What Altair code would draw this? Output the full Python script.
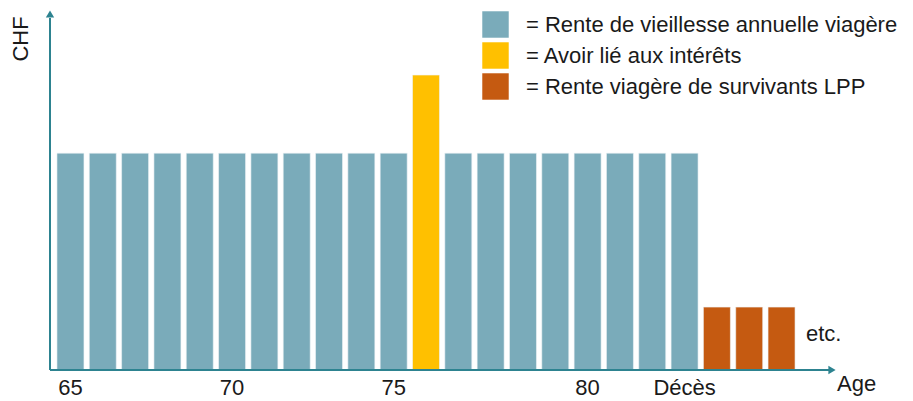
import altair as alt
import pandas as pd

# ---- data ----
categories = ["65", "66", "67", "68", "69", "70", "71", "72", "73", "74", "75", "75i",
              "76", "77", "78", "79", "80", "81", "82", "83", "S1", "S2", "S3"]
kinds = (["Rente de vieillesse annuelle viagère"] * 11
         + ["Avoir lié aux intérêts"]
         + ["Rente de vieillesse annuelle viagère"] * 8
         + ["Rente viagère de survivants LPP"] * 3)
values = [100] * 11 + [136] + [100] * 8 + [29] * 3
legend_names = ["Rente de vieillesse annuelle viagère", "Avoir lié aux intérêts",
                "Rente viagère de survivants LPP"]
legend_colors = ["#7aabba", "#ffc000", "#c55a11"]
shown_labels = ["65", "70", "75", "80"]
death_category = "83"
death_label = "Décès"

df = pd.DataFrame({"cat": categories, "kind": kinds, "val": values})

FONT = "Liberation Sans"
FS = 22
TXT = "#1a1a1a"
AXIS_COLOR = "#2d8390"

label_expr = ("datum.value == '%s' ? '%s' : (indexof(%s, datum.value) >= 0 ? datum.value : '')"
              % (death_category, death_label, str(shown_labels)))

bars = alt.Chart(df).mark_bar(stroke="#eef4f6", strokeWidth=0.6).encode(
    x=alt.X("cat:N", sort=categories,
            scale=alt.Scale(domain=categories, range=[4.3, 747.7],
                            paddingInner=0.165, paddingOuter=0.0825),
            axis=alt.Axis(title=None, domain=False, ticks=False, tickSize=0,
                          labelAngle=0, labelFont=FONT, labelFontSize=FS,
                          labelColor=TXT, labelBaseline="alphabetic",
                          labelPadding=24, labelExpr=label_expr, grid=False)),
    y=alt.Y("val:Q", scale=alt.Scale(domain=[0, 166]), axis=None),
    color=alt.Color("kind:N",
                    scale=alt.Scale(domain=legend_names, range=legend_colors),
                    legend=alt.Legend(title=None, orient="none", legendX=432, legendY=1,
                                      symbolType="square", symbolSize=700,
                                      symbolStrokeWidth=0, symbolOpacity=1,
                                      labelFont=FONT, labelFontSize=FS,
                                      labelColor=TXT, labelOffset=17,
                                      rowPadding=4, padding=0, labelLimit=600,
                                      labelExpr="'= ' + datum.label")),
)

y_axis_line = alt.Chart().mark_rule(color=AXIS_COLOR, strokeWidth=2).encode(
    x=alt.value(0), y=alt.value(360), y2=alt.value(8))
y_arrow = alt.Chart().mark_point(shape="triangle-up", filled=True, color=AXIS_COLOR,
                                 size=70, opacity=1).encode(
    x=alt.value(0), y=alt.value(4))
x_axis_line = alt.Chart().mark_rule(color=AXIS_COLOR, strokeWidth=2).encode(
    x=alt.value(0), x2=alt.value(780), y=alt.value(360))
x_arrow = alt.Chart().mark_point(shape="triangle-right", filled=True, color=AXIS_COLOR,
                                 size=70, opacity=1).encode(
    x=alt.value(782), y=alt.value(360))

chf = alt.Chart().mark_text(text="CHF", angle=270, font=FONT, fontSize=FS,
                            color=TXT, align="center", baseline="middle").encode(
    x=alt.value(-29), y=alt.value(29))
age = alt.Chart().mark_text(text="Age", font=FONT, fontSize=FS, color=TXT,
                            align="left", baseline="alphabetic").encode(
    x=alt.value(787), y=alt.value(381))
etc = alt.Chart().mark_text(text="etc.", font=FONT, fontSize=FS, color=TXT,
                            align="left", baseline="alphabetic").encode(
    x=alt.value(756), y=alt.value(331))

chart = alt.layer(bars, y_axis_line, y_arrow, x_axis_line, x_arrow, chf, age, etc).properties(
    width=788, height=360,
    autosize=alt.AutoSizeParams(type="none"),
    padding={"left": 42, "top": 2, "right": 67, "bottom": 30},
    background="white",
).configure_view(stroke=None)

chart.save("out.html", embed_options={"renderer": "svg", "actions": False})
